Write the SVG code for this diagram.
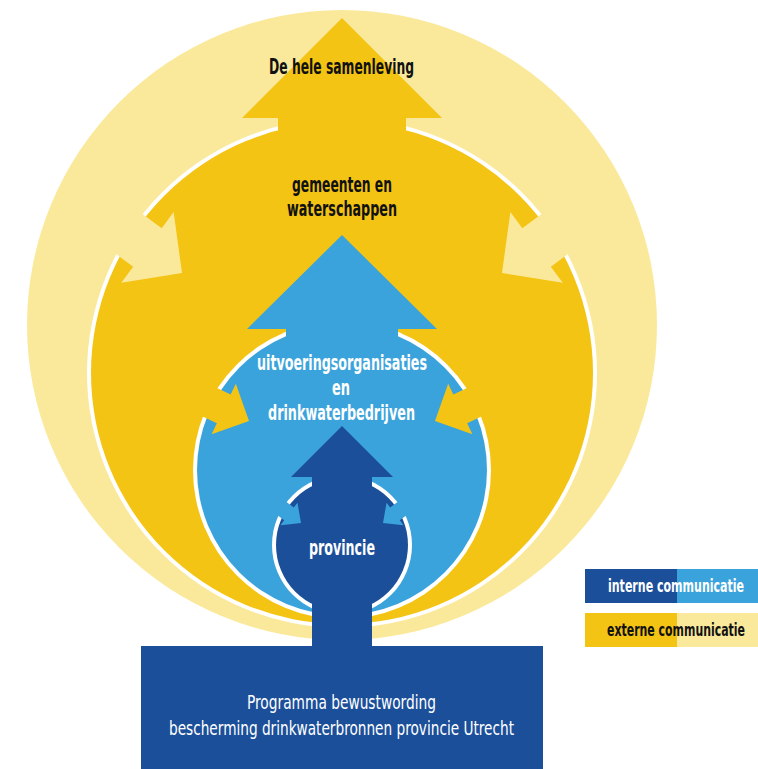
<svg xmlns="http://www.w3.org/2000/svg" width="758" height="769" viewBox="0 0 758 769">
  <style>
    .pale { fill: #FBE99B; }
    .yel { fill: #F4C414; }
    .lblue { fill: #3BA3DB; }
    .dblue { fill: #1C4F9A; }
    .ring { fill: #FFFFFF; }
    .t { font-family: "DejaVu Sans Condensed", "DejaVu Sans", sans-serif; font-weight: bold; font-size: 21px; }
    .tn { font-family: "DejaVu Sans Condensed", "DejaVu Sans", sans-serif; font-weight: normal; font-size: 20px; fill: #FFFFFF; }
    .tl { font-family: "DejaVu Sans Condensed", "DejaVu Sans", sans-serif; font-weight: bold; font-size: 17px; }
    .dark { fill: #111111; }
    .white { fill: #FFFFFF; }
  </style>
  <defs>
    <polygon id="arrowPale" points="0,0 -43,-44 -43,-24 -90,-24 -90,24 -43,24 -43,44"/>
    <polygon id="arrowYel" points="0,0 -28,-28 -28,-16 -60,-16 -60,16 -28,16 -28,28"/>
    <polygon id="arrowSmall" points="0,0 -15,-14 -15,-8 -35,-8 -35,8 -15,8 -15,14"/>
  </defs>

  <g id="samenleving">
    <circle class="pale" cx="342" cy="325" r="315"/>
  </g>

  <g id="gemeenten">
    <circle class="ring" cx="342" cy="373" r="255"/>
    <circle class="yel" cx="342" cy="373" r="251"/>
    <polygon class="yel" points="342,18 442,118 406,118 406,200 278,200 278,118 242,118"/>
    <text class="t dark" x="269" y="74" textLength="145" lengthAdjust="spacingAndGlyphs">De hele samenleving</text>
    <text class="t dark" x="292" y="192" textLength="100" lengthAdjust="spacingAndGlyphs">gemeenten en</text>
    <text class="t dark" x="287" y="216" textLength="110" lengthAdjust="spacingAndGlyphs">waterschappen</text>
  </g>

  <g id="connectors-extern">
    <use href="#arrowPale" class="pale" transform="translate(182,273) rotate(36.5)"/>
    <use href="#arrowPale" class="pale" transform="translate(684,0) scale(-1,1) translate(182,273) rotate(36.5)"/>
  </g>

  <g id="uitvoering">
    <circle class="ring" cx="342" cy="470" r="149"/>
    <circle class="lblue" cx="342" cy="470" r="145"/>
    <polygon class="lblue" points="342,235 437,329 398,329 398,380 286,380 286,329 247,329"/>
  </g>

  <g id="connectors-uitvoering">
    <use href="#arrowYel" class="yel" transform="translate(249,421) rotate(25.6)"/>
    <use href="#arrowYel" class="yel" transform="translate(684,0) scale(-1,1) translate(249,421) rotate(25.6)"/>
  </g>

  <g id="uitvoering-label">
    <text class="t white" x="257" y="370" textLength="170" lengthAdjust="spacingAndGlyphs">uitvoeringsorganisaties</text>
    <text class="t white" x="332" y="395" textLength="18" lengthAdjust="spacingAndGlyphs">en</text>
    <text class="t white" x="268" y="420" textLength="147" lengthAdjust="spacingAndGlyphs">drinkwaterbedrijven</text>
  </g>

  <g id="provincie">
    <circle class="ring" cx="342" cy="545" r="70"/>
    <circle class="dblue" cx="342" cy="545" r="66"/>
    <polygon class="dblue" points="342,426 393,477 372,477 372,520 312,520 312,477 291,477"/>
  </g>

  <g id="connectors-intern">
    <use href="#arrowSmall" class="lblue" transform="translate(301,523) rotate(37)"/>
    <use href="#arrowSmall" class="lblue" transform="translate(684,0) scale(-1,1) translate(301,523) rotate(37)"/>
  </g>

  <g id="programma">
    <rect class="dblue" x="312" y="540" width="60" height="110"/>
    <rect class="dblue" x="141" y="646" width="402" height="123"/>
    <text class="t white" x="309" y="555" textLength="66" lengthAdjust="spacingAndGlyphs">provincie</text>
    <text class="tn" x="247" y="709" textLength="189" lengthAdjust="spacingAndGlyphs">Programma bewustwording</text>
    <text class="tn" x="169" y="735" textLength="345" lengthAdjust="spacingAndGlyphs">bescherming drinkwaterbronnen provincie Utrecht</text>
  </g>

  <g id="legend-intern">
    <rect class="dblue" x="585" y="569" width="92" height="34"/>
    <rect class="lblue" x="677" y="569" width="81" height="34"/>
    <text class="tl white" x="608" y="592" textLength="136" lengthAdjust="spacingAndGlyphs">interne communicatie</text>
  </g>
  <g id="legend-extern">
    <rect class="yel" x="585" y="613" width="92" height="34"/>
    <rect class="pale" x="677" y="613" width="81" height="34"/>
    <text class="tl dark" x="607" y="636" textLength="138" lengthAdjust="spacingAndGlyphs">externe communicatie</text>
  </g>
</svg>
